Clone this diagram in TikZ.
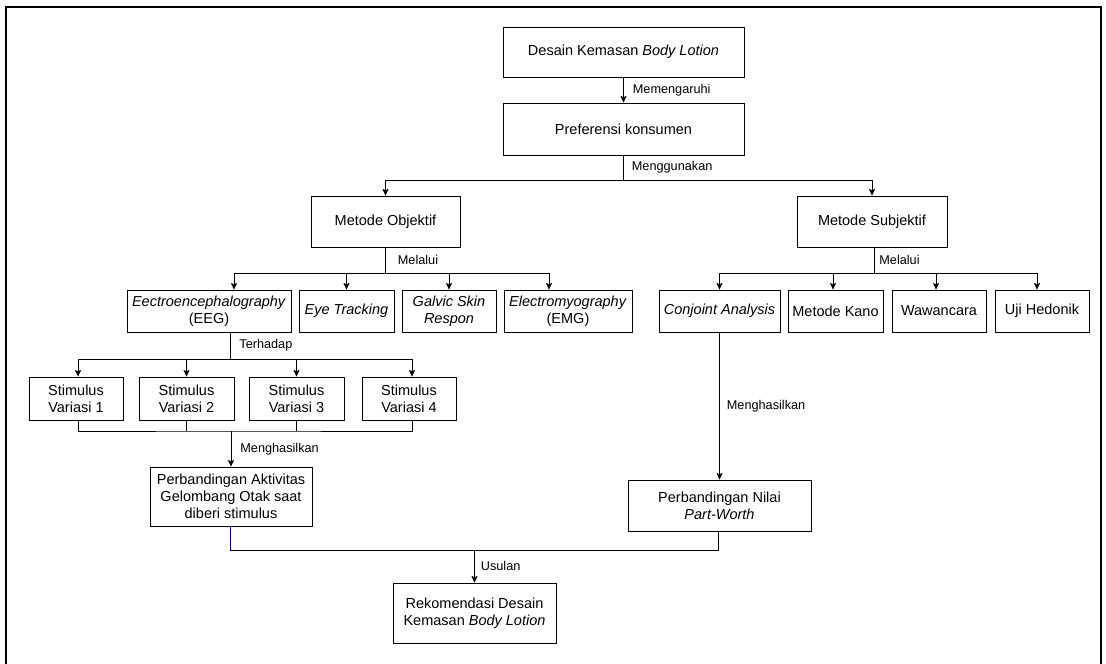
\documentclass[tikz,border=0pt]{standalone}
\usepackage{fontspec}
\setmainfont{Liberation Sans}
\usepackage{tikz}
\usetikzlibrary{arrows, arrows.meta, positioning}
\tikzset{>={Stealth[length=6.5pt, width=6pt, inset=1pt]}}
\definecolor{garisbiru}{RGB}{0,0,110}

\begin{document}
\begin{tikzpicture}[x=1pt, y=-1pt, line width=0.8pt,
	kotak/.style={draw, inner sep=0pt, align=center, font=\fontsize{14.5}{17.2}\selectfont},
	ket/.style={right, inner sep=0pt, xshift=9pt, font=\fontsize{12.7}{15}\selectfont}]

	\useasboundingbox (0,0) rectangle (1106,664);
	% bingkai, bawahnya terpotong
	\draw[line width=1.6pt] (6,665) -- (6,7) -- (1101,7) -- (1101,665);

	\node[kotak, minimum width=241, minimum height=50]	(desain)	at	(623.5,52)	{Desain Kemasan \textit{Body Lotion}};
	\node[kotak, minimum width=241, minimum height=52]	(pref)	at	(623.5,129)	{Preferensi konsumen};
	\node[kotak, minimum width=149, minimum height=51]	(objektif)	at	(385.5,221.5)	{Metode Objektif};
	\node[kotak, minimum width=150, minimum height=51]	(subjektif)	at	(872,221.5)	{Metode Subjektif};

	% metode objektif
	\node[kotak, minimum width=164, minimum height=42]	(eeg)	at	(209,311)	{\textit{Eectroencephalography}\\(EEG)};
	\node[kotak, minimum width=95, minimum height=42]	(eye)	at	(346.5,311)	{\textit{Eye Tracking}};
	\node[kotak, minimum width=94, minimum height=42]	(gsr)	at	(449,311)	{\textit{Galvic Skin}\\\textit{Respon}};
	\node[kotak, minimum width=128, minimum height=42]	(emg)	at	(568,311)	{\textit{Electromyography}\\(EMG)};

	% metode subjektif
	\node[kotak, minimum width=121, minimum height=42]	(conjoint)	at	(719.5,311)	{\textit{Conjoint Analysis}};
	\node[kotak, minimum width=95, minimum height=42]	(kano)	at	(835.5,311)	{Metode Kano};
	\node[kotak, minimum width=94, minimum height=42]	(wawancara)	at	(939,311)	{Wawancara};
	\node[kotak, minimum width=94, minimum height=42]	(hedonik)	at	(1042,311)	{Uji Hedonik};

	\node[kotak, minimum width=94, minimum height=43]	(S1)	at	(76,398.5)	{Stimulus\\Variasi 1};
	\node[kotak, minimum width=95, minimum height=43]	(S2)	at	(186.5,398.5)	{Stimulus\\Variasi 2};
	\node[kotak, minimum width=95, minimum height=43]	(S3)	at	(296.5,398.5)	{Stimulus\\Variasi 3};
	\node[kotak, minimum width=94, minimum height=43]	(S4)	at	(409,398.5)	{Stimulus\\Variasi 4};

	\node[kotak, minimum width=162, minimum height=59]	(aktivitas)	at	(231,496.5)	{Perbandingan Aktivitas\\Gelombang Otak saat\\diberi stimulus};
	\node[kotak, minimum width=183, minimum height=51]	(partworth)	at	(719.5,505.5)	{Perbandingan Nilai\\\textit{Part-Worth}};
	\node[kotak, minimum width=163, minimum height=60]	(rekomendasi)	at	(474.5,613)	{Rekomendasi Desain\\Kemasan \textit{Body Lotion}};

	\coordinate	(jPref)	at	(623.5,180);
	\coordinate	(jObj)	at	(385.5,273);
	\coordinate	(jSub)	at	(874,273);
	\coordinate	(jEEG)	at	(230,359);
	\coordinate	(jStim)	at	(231,431);
	\coordinate	(jUsul)	at	(474.5,550);

	\draw[->](desain) -- node[ket]{Memengaruhi} (pref) ;

	\draw(pref.south) -- node[ket, xshift=-1pt]{Menggunakan} (jPref) ;
	\draw[->](jPref) -| (objektif.north) ;
	\draw[->](jPref) -| (subjektif.north) ;

	\draw(objektif.south) -- node[ket, xshift=3pt]{Melalui} (jObj) ;
	\draw[->](jObj) -| ([xshift=25pt]eeg.north) ;
	\draw[->](jObj) -| (eye.north) ;
	\draw[->](jObj) -| (gsr.north) ;
	\draw[->](jObj) -| ([xshift=-19pt]emg.north) ;

	\draw([xshift=2pt]subjektif.south) -- node[ket, xshift=-4pt]{Melalui} (jSub) ;
	\draw[->](jSub) -| (conjoint.north) ;
	\draw[->](jSub) -| ([xshift=-2.5pt]kano.north) ;
	\draw[->](jSub) -| ([xshift=-3pt]wawancara.north) ;
	\draw[->](jSub) -| ([xshift=-5pt]hedonik.north) ;

	\draw([xshift=21pt]eeg.south) -- node[ket]{Terhadap} (jEEG) ;
	\draw[->](jEEG) -| ([xshift=2pt]S1.north) ;
	\draw[->](jEEG) -| (S2.north) ;
	\draw[->](jEEG) -| (S3.north) ;
	\draw[->](jEEG) -| ([xshift=3pt]S4.north) ;

	\draw([xshift=2pt]S1.south) |- (jStim) -| ([xshift=3pt]S4.south) ;
	\draw(S2.south) -- (S2.south |- jStim) ;
	\draw(S3.south) -- (S3.south |- jStim) ;
	\draw[->](jStim) -- node[ket]{Menghasilkan} (aktivitas.north) ;

	\draw[->](conjoint) -- node[ket, xshift=-2pt]{Menghasilkan} (partworth) ;

	\draw[garisbiru]([xshift=-1pt]aktivitas.south) -- ([xshift=-1pt]aktivitas.south |- jUsul) ;
	\draw([xshift=-1pt]aktivitas.south |- jUsul) -| ([xshift=-1pt]partworth.south) ;
	\draw[->](jUsul) -- node[ket, xshift=-3pt]{Usulan} (rekomendasi) ;
\end{tikzpicture}
\end{document}
